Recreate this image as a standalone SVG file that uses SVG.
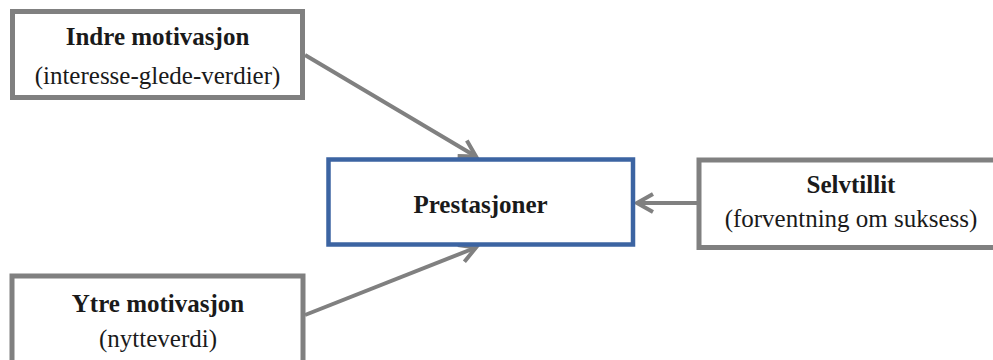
<svg xmlns="http://www.w3.org/2000/svg" width="993" height="360" viewBox="0 0 993 360">
<style>
.box{fill:#ffffff;stroke:#808080;stroke-width:5}
.main{fill:#ffffff;stroke:#3c64a2;stroke-width:4.5}
.t{font-family:'Liberation Serif','DejaVu Serif',serif;font-size:25px;fill:#1a1a1a;text-anchor:middle}
.b{font-weight:bold}
.conn{stroke:#808080;stroke-width:4;fill:none}
</style>
<defs>
<marker id="arr" markerUnits="userSpaceOnUse" markerWidth="30" markerHeight="30" viewBox="-20 -15 30 30" refX="0" refY="0" orient="auto">
<path d="M -16 -9 L 0 0 L -16 9" fill="none" stroke="#808080" stroke-width="4"/>
</marker>
</defs>
<rect width="993" height="360" fill="#ffffff"/>
<g id="connectors">
<line class="conn" x1="305" y1="55" x2="476" y2="156.5" marker-end="url(#arr)"/>
<line class="conn" x1="305" y1="315" x2="476" y2="247.5" marker-end="url(#arr)"/>
<line class="conn" x1="697" y1="203" x2="637" y2="203" marker-end="url(#arr)"/>
</g>
<g id="indre">
<rect class="box" x="12.5" y="11.5" width="290" height="86"/>
<text class="t b" x="157.5" y="45" font-family="Liberation Serif, serif">Indre motivasjon</text>
<text class="t" x="157.5" y="84" font-family="Liberation Serif, serif">(interesse-glede-verdier)</text>
</g>
<g id="prestasjoner">
<rect class="main" x="328.5" y="159.5" width="304.5" height="85"/>
<text class="t b" x="480.5" y="213">Prestasjoner</text>
</g>
<g id="selvtillit">
<rect class="box" x="699" y="160" width="310" height="87.5"/>
<text class="t b" x="851" y="193">Selvtillit</text>
<text class="t" x="851" y="227">(forventning om suksess)</text>
</g>
<g id="ytre">
<rect class="box" x="12" y="276" width="291" height="100"/>
<text class="t b" x="158" y="312">Ytre motivasjon</text>
<text class="t" x="158" y="347">(nytteverdi)</text>
</g>
</svg>
